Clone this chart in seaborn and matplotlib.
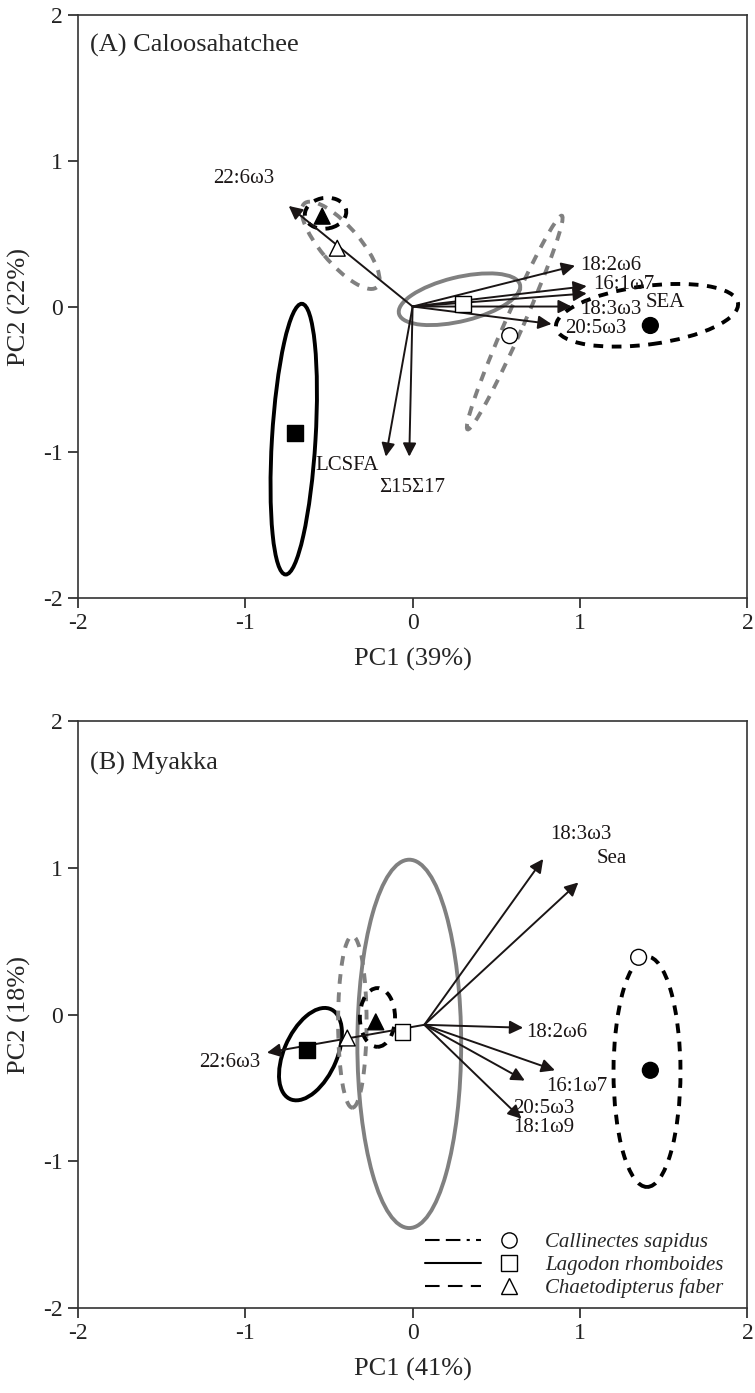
import matplotlib
matplotlib.use('Agg')
import matplotlib.pyplot as plt
from matplotlib.patches import Ellipse
from matplotlib.lines import Line2D
from matplotlib.legend_handler import HandlerTuple
import seaborn as sns
import pandas as pd

sns.set_style('white')
plt.rcParams['font.family'] = ['Liberation Serif', 'DejaVu Serif']
plt.rcParams['axes.unicode_minus'] = False

species = ['Callinectes sapidus', 'Lagodon rhomboides', 'Chaetodipterus faber']
markers = {'Callinectes sapidus': 'o', 'Lagodon rhomboides': 's', 'Chaetodipterus faber': '^'}

# ---- panel A: Caloosahatchee ----
a_vec_names = ['22:6ω3', '18:2ω6', '16:1ω7', 'SEA', '18:3ω3', '20:5ω3', 'LCSFA', 'Σ15Σ17']
a_vec_pc1 = [-0.74, 0.97, 1.04, 1.04, 0.95, 0.83, -0.16, -0.02]
a_vec_pc2 = [0.69, 0.28, 0.14, 0.09, 0.0, -0.12, -1.03, -1.03]
a_lab_pc1 = [-1.01, 1.0, 1.08, 1.39, 1.0, 0.91, -0.58, -0.2]
a_lab_pc2 = [0.88, 0.28, 0.15, 0.03, -0.02, -0.15, -1.09, -1.24]
a_lab_ha = ['center', 'left', 'left', 'left', 'left', 'left', 'left', 'left']

# group centroids
a_sp = ['Callinectes sapidus', 'Callinectes sapidus', 'Lagodon rhomboides', 'Lagodon rhomboides',
        'Chaetodipterus faber', 'Chaetodipterus faber']
a_filled = [False, True, False, True, False, True]
a_pc1 = [0.58, 1.42, 0.30, -0.70, -0.45, -0.54]
a_pc2 = [-0.20, -0.13, 0.02, -0.87, 0.40, 0.62]
# confidence ellipses per group
a_ell_w = [1.57, 1.10, 0.75, 0.26, 0.72, 0.25]
a_ell_h = [0.11, 0.40, 0.30, 1.86, 0.24, 0.21]
a_ell_ang = [69, 9, 16, -3, -54, 15]
a_ell_cx = [0.61, 1.40, 0.28, -0.71, -0.43, -0.52]
a_ell_cy = [-0.11, -0.06, 0.05, -0.91, 0.42, 0.64]

# ---- panel B: Myakka ----
b_origin = (0.07, -0.07)
b_vec_names = ['22:6ω3', '18:3ω3', 'Sea', '18:2ω6', '16:1ω7', '20:5ω3', '18:1ω9']
b_vec_pc1 = [-0.87, 0.78, 0.99, 0.66, 0.85, 0.67, 0.65]
b_vec_pc2 = [-0.26, 1.06, 0.9, -0.09, -0.38, -0.45, -0.71]
b_lab_pc1 = [-1.09, 0.82, 1.1, 0.68, 0.8, 0.6, 0.6]
b_lab_pc2 = [-0.33, 1.23, 1.06, -0.12, -0.49, -0.64, -0.77]
b_lab_ha = ['center', 'left', 'left', 'left', 'left', 'left', 'left']

b_sp = a_sp
b_filled = a_filled
b_pc1 = [1.35, 1.42, -0.06, -0.63, -0.39, -0.22]
b_pc2 = [0.39, -0.38, -0.12, -0.24, -0.16, -0.05]
b_ell_show = [False, True, True, True, True, True]
b_ell_w = [0.0, 0.40, 0.62, 0.32, 0.17, 0.21]
b_ell_h = [0.0, 1.57, 2.51, 0.66, 1.17, 0.40]
b_ell_ang = [0, 0, 0, -20, 0, 0]
b_ell_cx = [0, 1.40, -0.02, -0.61, -0.36, -0.21]
b_ell_cy = [0, -0.39, -0.20, -0.27, -0.05, -0.02]

line_style = {'Callinectes sapidus': (0, (2.5, 2.2)),
              'Lagodon rhomboides': '-',
              'Chaetodipterus faber': (0, (2.5, 2.2))}
legend_style = {'Callinectes sapidus': (0, (7, 3, 7, 3, 1.5, 3)),
                'Lagodon rhomboides': '-',
                'Chaetodipterus faber': (0, (7, 4))}


def draw_panel(ax, title, title_y, xlab, ylab, origin, vnames, vx, vy, lx, ly, lha,
               sp, filled, px, py, ecx, ecy, ew, eh, eang, eshow=None):
    for i in range(len(sp)):
        if eshow is not None and not eshow[i]:
            continue
        col = 'black' if filled[i] else '#808080'
        ax.add_patch(Ellipse((ecx[i], ecy[i]), ew[i], eh[i], angle=eang[i], fill=False,
                             edgecolor=col, lw=2.8, linestyle=line_style[sp[i]]))
    for i in range(len(vnames)):
        ax.annotate('', xy=(vx[i], vy[i]), xytext=origin,
                    arrowprops=dict(arrowstyle='-|>', color='#1a1515', lw=1.4,
                                    mutation_scale=20, shrinkA=0, shrinkB=0))
        ax.text(lx[i], ly[i], vnames[i], ha=lha[i], va='center', fontsize=15, color='#1a1515')
    df = pd.DataFrame({'pc1': px, 'pc2': py, 'species': sp, 'filled': filled})
    sns.scatterplot(data=df[df.filled], x='pc1', y='pc2', style='species', markers=markers,
                    color='black', edgecolor='black', s=130, linewidth=1, legend=False, ax=ax, zorder=5)
    sns.scatterplot(data=df[~df.filled], x='pc1', y='pc2', style='species', markers=markers,
                    color='white', edgecolor='black', s=130, linewidth=1, legend=False, ax=ax, zorder=5)
    ax.set_xlim(-2, 2)
    ax.set_ylim(-2, 2)
    ax.set_xticks([-2, -1, 0, 1, 2])
    ax.set_yticks([-2, -1, 0, 1, 2])
    ax.tick_params(direction='out', length=7, width=1.2, labelsize=17, colors='#222222',
                   bottom=True, left=True, top=False, right=False)
    for s in ax.spines.values():
        s.set_color('#333333')
        s.set_linewidth(1.2)
    ax.set_xlabel(xlab, fontsize=19, labelpad=10)
    ax.set_ylabel(ylab, fontsize=19, labelpad=9)
    ax.text(0.018, title_y, title, transform=ax.transAxes, fontsize=19, va='center', ha='left')


fig = plt.figure(figsize=(7.55, 13.93), dpi=100)
ax1 = fig.add_axes([0.103, 0.5707, 0.887, 0.4185])
ax2 = fig.add_axes([0.103, 0.061, 0.887, 0.4214])

draw_panel(ax1, '(A) Caloosahatchee', 0.948, 'PC1 (39%)', 'PC2 (22%)', (0, 0),
           a_vec_names, a_vec_pc1, a_vec_pc2, a_lab_pc1, a_lab_pc2, a_lab_ha,
           a_sp, a_filled, a_pc1, a_pc2, a_ell_cx, a_ell_cy, a_ell_w, a_ell_h, a_ell_ang)
draw_panel(ax2, '(B) Myakka', 0.928, 'PC1 (41%)', 'PC2 (18%)', b_origin,
           b_vec_names, b_vec_pc1, b_vec_pc2, b_lab_pc1, b_lab_pc2, b_lab_ha,
           b_sp, b_filled, b_pc1, b_pc2, b_ell_cx, b_ell_cy, b_ell_w, b_ell_h, b_ell_ang, b_ell_show)

handles = []
for sp_name in species:
    ln = Line2D([], [], color='black', lw=1.5, linestyle=legend_style[sp_name])
    mk = Line2D([], [], color='black', marker=markers[sp_name], markerfacecolor='white',
                markersize=11, linestyle='none', markeredgewidth=1)
    handles.append((ln, mk))
ax2.legend(handles, species, handler_map={tuple: HandlerTuple(ndivide=None, pad=0.0)},
           loc='upper left', bbox_to_anchor=(0.49, 0.16), frameon=False, handlelength=5.4,
           handletextpad=0.4, labelspacing=0.15, prop={'style': 'italic', 'size': 15})

fig.savefig('out.png', dpi=100)
